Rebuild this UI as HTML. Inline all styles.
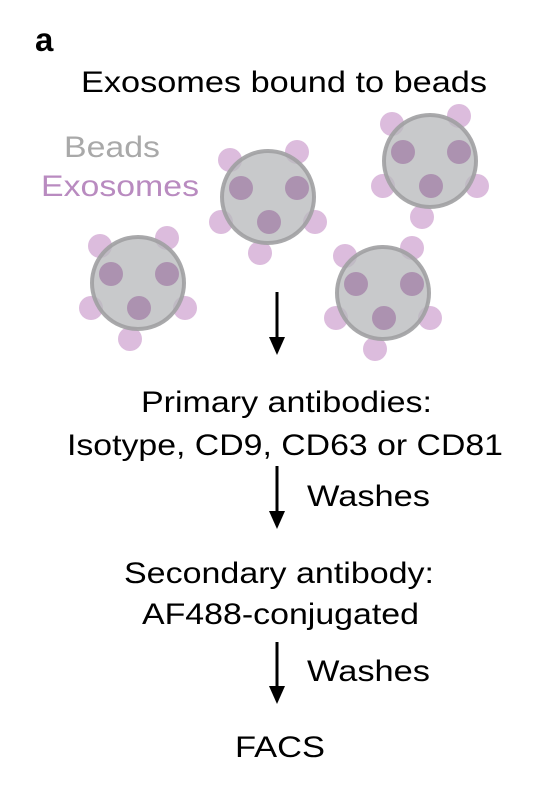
<!DOCTYPE html>
<html><head><meta charset="utf-8"><style>
html,body{margin:0;padding:0;background:#fff;}
svg{display:block;font-family:"Liberation Sans",Arial,sans-serif;}
</style></head><body>
<svg width="546" height="804" viewBox="0 0 546 804">
<text x="35" y="51" font-size="33" font-weight="bold">a</text>
<text x="81" y="92" font-size="30" textLength="406" lengthAdjust="spacingAndGlyphs">Exosomes bound to beads</text>
<text x="64" y="157" font-size="30" fill="#a9a9a9" textLength="96" lengthAdjust="spacingAndGlyphs">Beads</text>
<text x="41" y="196" font-size="30" fill="#b98bc0" textLength="158" lengthAdjust="spacingAndGlyphs">Exosomes</text>
<g id="beads"></g>
<g><line x1="277" y1="292" x2="277" y2="340" stroke="#000" stroke-width="3"/><polygon points="269,337 285,337 277,355" fill="#000"/></g>
<text x="141" y="412" font-size="30" textLength="291" lengthAdjust="spacingAndGlyphs">Primary antibodies:</text>
<text x="67" y="455" font-size="30" textLength="436" lengthAdjust="spacingAndGlyphs">Isotype, CD9, CD63 or CD81</text>
<g><line x1="277" y1="466" x2="277" y2="514" stroke="#000" stroke-width="3"/><polygon points="269,511 285,511 277,529" fill="#000"/></g>
<text x="307" y="506" font-size="30" textLength="123" lengthAdjust="spacingAndGlyphs">Washes</text>
<text x="124" y="583" font-size="30" textLength="310" lengthAdjust="spacingAndGlyphs">Secondary antibody:</text>
<text x="142" y="624" font-size="30" textLength="277" lengthAdjust="spacingAndGlyphs">AF488-conjugated</text>
<g><line x1="277" y1="642" x2="277" y2="689" stroke="#000" stroke-width="3"/><polygon points="269,686 285,686 277,704" fill="#000"/></g>
<text x="307" y="681" font-size="30" textLength="123" lengthAdjust="spacingAndGlyphs">Washes</text>
<text x="235" y="757" font-size="30" textLength="90" lengthAdjust="spacingAndGlyphs">FACS</text>
</svg>
<script>
const beadCx=[268,430,138,383];
const beadCy=[197,161,283,293];
const outerDx=[-38,29,-47,47,-8];
const outerDy=[-37,-45,25,25,56];
const innerDx=[-27,29,1];
const innerDy=[-9,-9,25];
const ns="http://www.w3.org/2000/svg";
const g=document.getElementById('beads');
function circ(cx,cy,r,fill,stroke,name){
  const c=document.createElementNS(ns,'circle');
  c.setAttribute('cx',cx);c.setAttribute('cy',cy);c.setAttribute('r',r);
  c.setAttribute('fill',fill);
  if(stroke){c.setAttribute('stroke',stroke);c.setAttribute('stroke-width','4');}
  
  
  g.appendChild(c);
}
for(let i=0;i<beadCx.length;i++){
  for(let j=0;j<outerDx.length;j++) circ(beadCx[i]+outerDx[j],beadCy[i]+outerDy[j],12,'#dcbcdd',null,'exosome');
  circ(beadCx[i],beadCy[i],46,'rgba(185,186,188,0.78)','rgba(160,160,162,0.9)','bead');
  for(let j=0;j<innerDx.length;j++) circ(beadCx[i]+innerDx[j],beadCy[i]+innerDy[j],12,'rgba(150,100,155,0.55)',null,'bound-exosome');
}
</script>
</body></html>
